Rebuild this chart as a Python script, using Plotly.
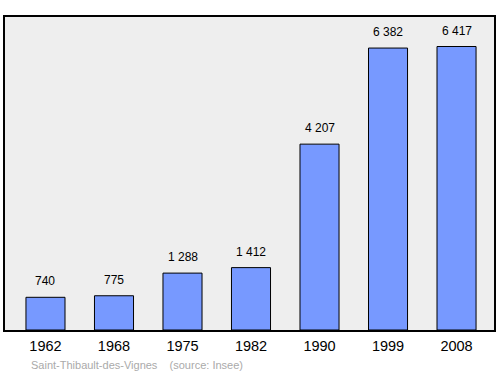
import plotly.graph_objects as go

years = ["1962", "1968", "1975", "1982", "1990", "1999", "2008"]
population = [740, 775, 1288, 1412, 4207, 6382, 6417]
value_labels = ["740", "775", "1 288", "1 412", "4 207", "6 382", "6 417"]

xs = list(range(len(years)))

fig = go.Figure()
fig.add_trace(go.Bar(
    x=xs, y=population, width=0.57,
    marker=dict(color="#7799ff", line=dict(color="#000000", width=1)),
    hoverinfo="skip",
))

for x, v, t in zip(xs, population, value_labels):
    fig.add_annotation(x=x, y=v, text=t, showarrow=False, yanchor="bottom",
                       yshift=7, font=dict(family="Liberation Sans, Arial", size=12, color="#000"))

fig.add_annotation(xref="paper", yref="paper", x=0.05, y=-0.112, xanchor="left", yanchor="middle",
                   text="Saint-Thibault-des-Vignes&nbsp;&nbsp;&nbsp;&nbsp;(source: Insee)", showarrow=False,
                   font=dict(family="Liberation Sans, Arial", size=11, color="#aaaaaa"))

fig.update_layout(
    width=500, height=374,
    margin=dict(l=5, r=6, t=17, b=44),
    paper_bgcolor="#ffffff",
    plot_bgcolor="#eeeeee",
    showlegend=False,
    xaxis=dict(tickmode="array", tickvals=xs, ticktext=years, range=[-0.591, 6.547],
               showgrid=False, zeroline=False, showline=True, linecolor="#000", linewidth=1.5,
               mirror=True, ticks="", ticklabelstandoff=2,
               tickfont=dict(family="Liberation Sans, Arial", size=14.5, color="#000")),
    yaxis=dict(range=[0, 7085], showgrid=False, zeroline=False, showticklabels=False,
               showline=True, linecolor="#000", linewidth=1.5, mirror=True, ticks=""),
)

fig.write_html("out.html")
